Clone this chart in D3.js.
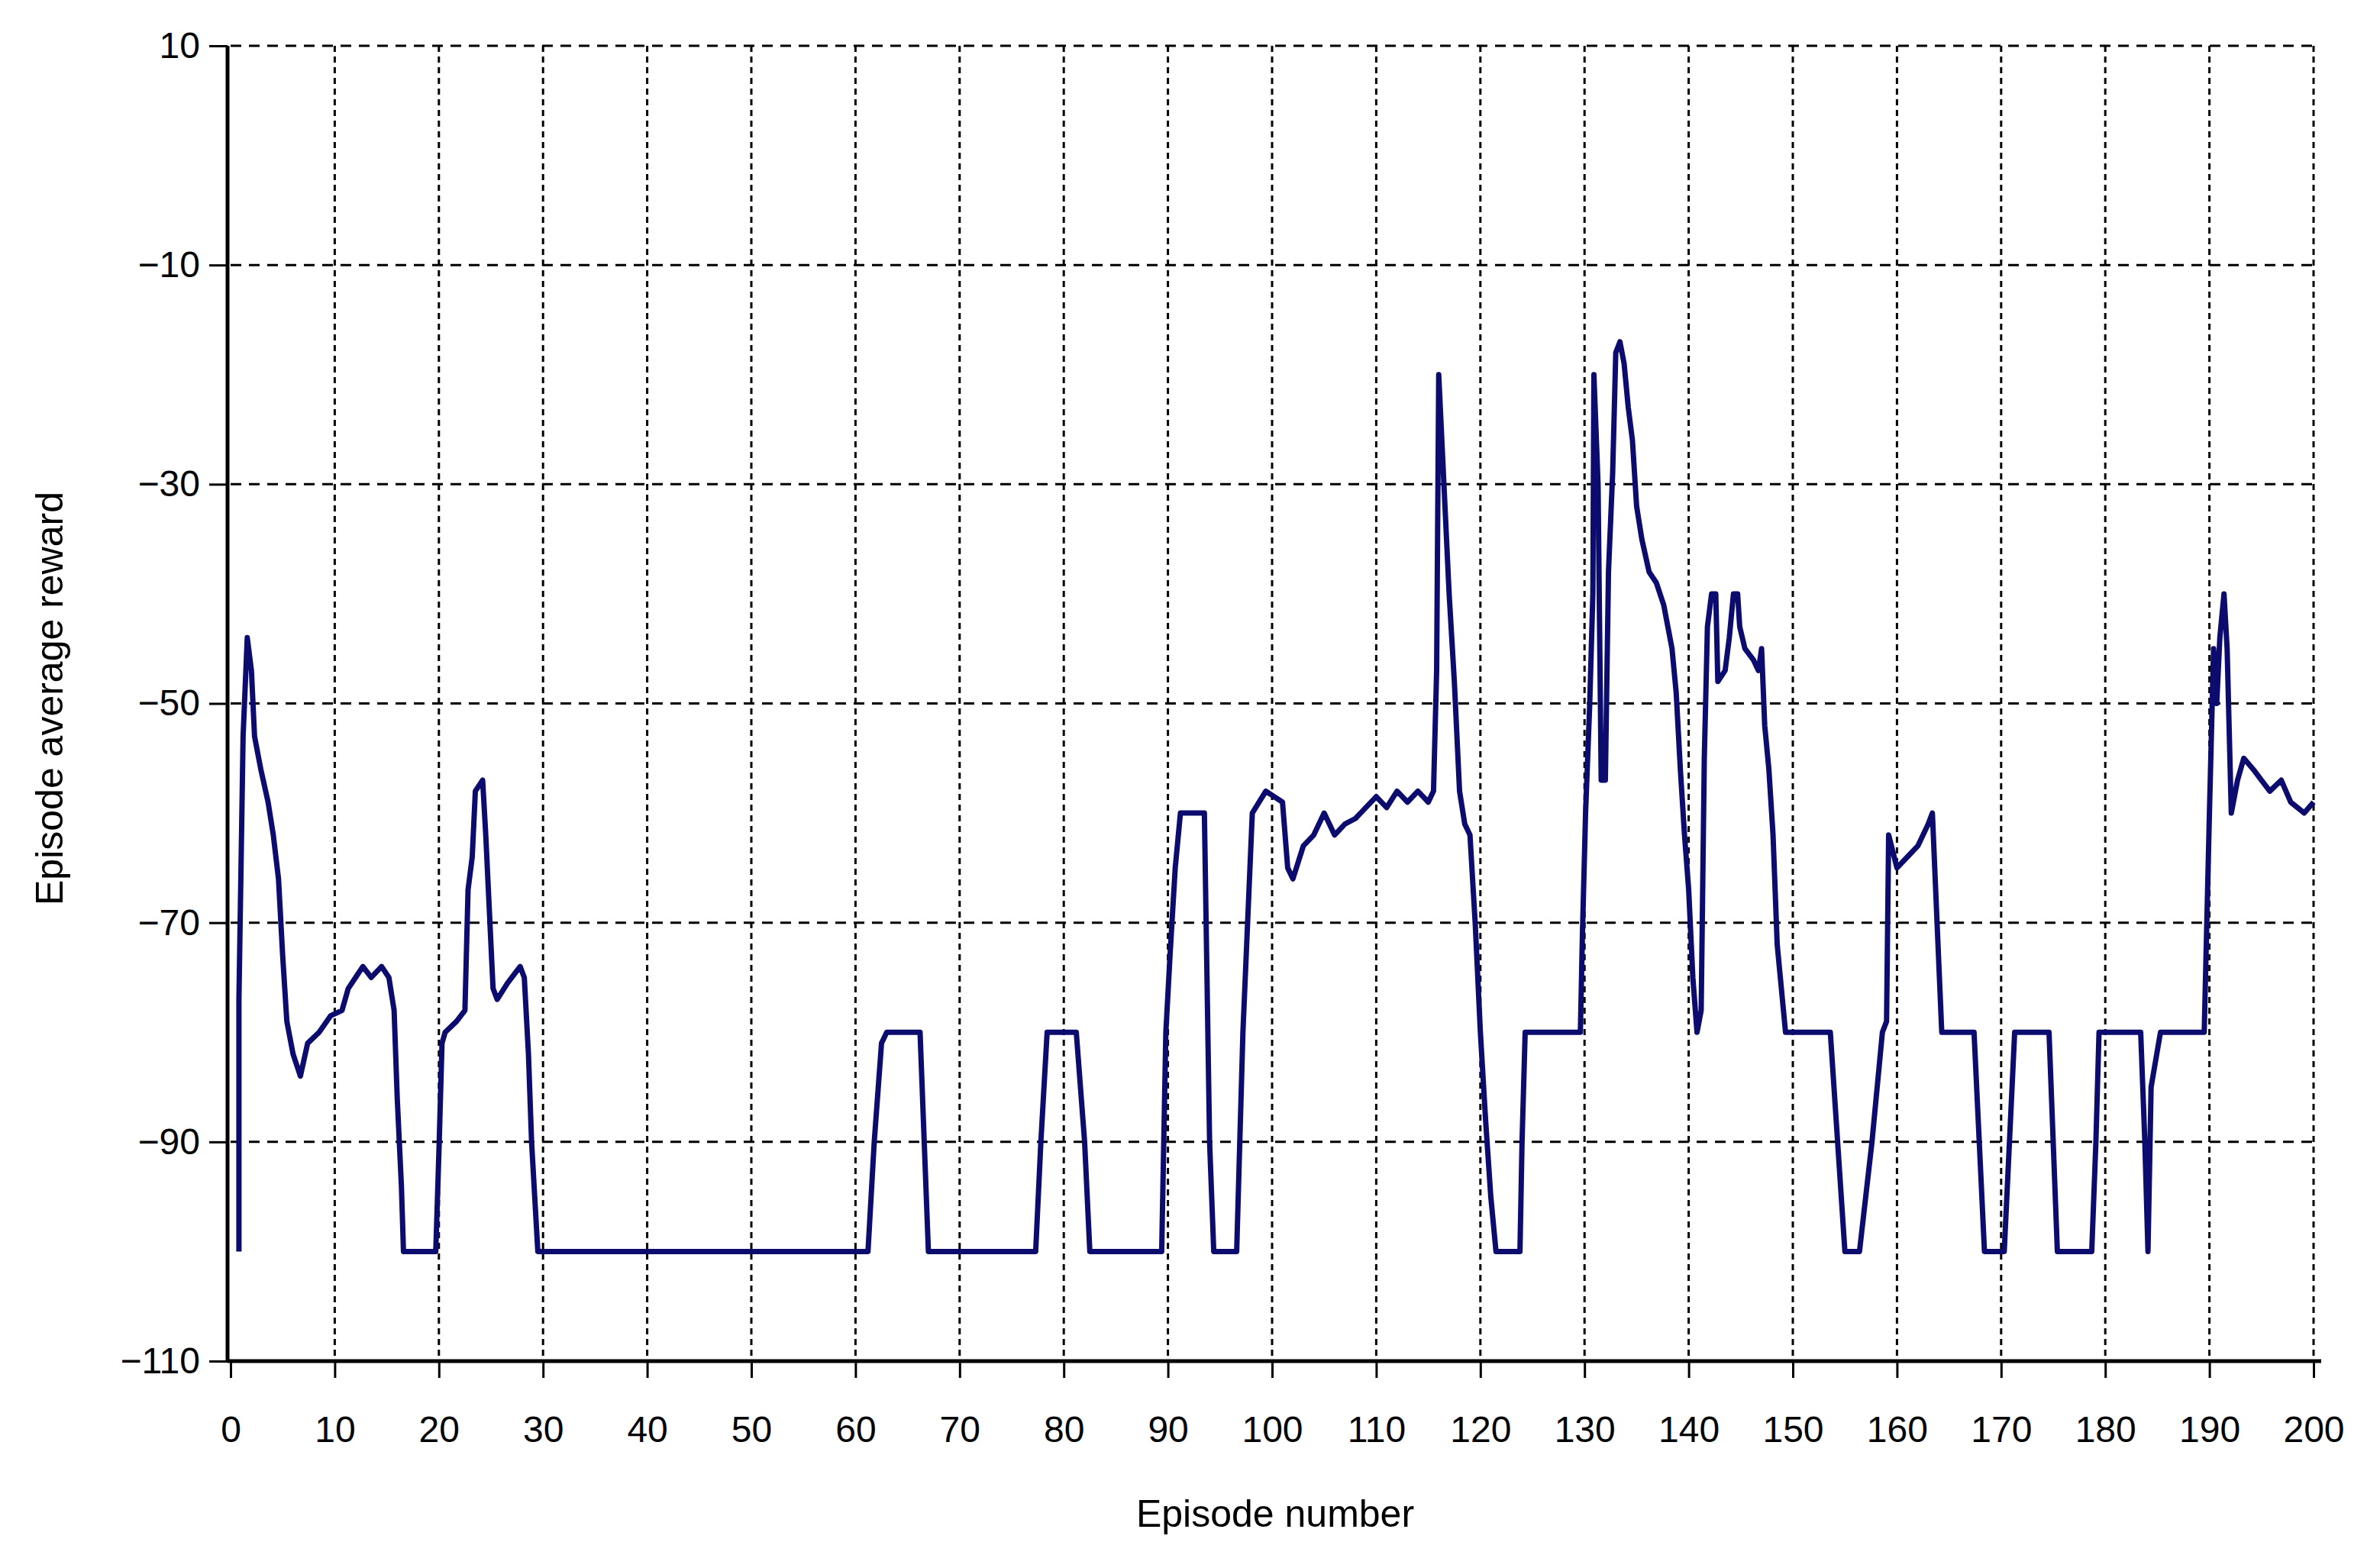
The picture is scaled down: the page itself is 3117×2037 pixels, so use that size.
<!DOCTYPE html>
<html><head><meta charset="utf-8">
<script src="https://cdn.jsdelivr.net/npm/d3@7"></script>
<style>body{margin:0;background:#fff}</style></head>
<body><svg id="c" width="3117" height="2037"></svg>
<script>
const episodes = [0.8,0.8,1.2,1.6,2,2.3,2.9,3.6,4.1,4.6,5,5.4,6,6.7,7.4,8.5,9.6,10.7,11.3,12,12.7,13.5,14.5,15.2,15.7,16,16.4,16.6,19.7,20,20.3,20.6,21.7,22.5,22.8,23.2,23.5,24.2,24.5,24.8,25.2,25.6,26.6,27.8,28.2,28.6,28.9,29.5,
61.2,61.8,62.5,63,66.2,66.6,67,77.3,77.8,78.4,81.2,82,82.5,89.4,89.8,90.2,90.7,91.2,93.5,94,94.4,96.6,97.2,98.1,99.4,101,101.5,102,103,104,105,106,107,108,109,110,111,112,113,114,115,115.5,115.8,116,116.5,117,117.5,118,118.5,119,119.5,120,120.5,121,121.5,123.8,124,124.3,129.6,129.8,130.1,130.5,130.8,130.9,131.3,131.6,132,132.3,132.7,133,133.4,133.8,134.2,134.6,135,135.5,136.2,136.9,137.6,138.4,138.8,139.2,139.6,140,140.4,140.8,141.2,141.5,141.8,142.2,142.6,142.8,143.5,143.9,144.3,144.7,144.9,145.4,146.2,146.7,147,147.3,147.7,148.1,148.5,149.3,153.6,154.3,155,156.4,157.6,158.6,159,159.2,160,161,162,163,163.4,164.3,167.4,167.9,168.4,170.3,170.8,171.3,174.6,175,175.4,178.7,179.1,179.4,183.4,183.8,184.1,184.4,185.3,189.5,190,190.4,190.7,191,191.4,191.7,192.1,192.7,193.3,194.2,195,195.8,196.9,197.8,199.1,200];
const rewards = [-100,-77,-53,-44,-47,-53,-56,-59,-62,-66,-73,-79,-82,-84,-81,-80,-78.5,-78,-76,-75,-74,-75,-74,-75,-78,-86,-94,-100,-100,-91,-81,-80,-79,-78,-67,-64,-58,-57,-62,-68,-76,-77,-75.5,-74,-75,-82,-90,-100,
-100,-90,-81,-80,-80,-90,-100,-100,-90,-80,-80,-90,-100,-100,-80,-73,-65,-60,-60,-90,-100,-100,-80,-60,-58,-59,-65,-66,-63,-62,-60,-62,-61,-60.5,-59.5,-58.5,-59.5,-58,-59,-58,-59,-58,-47,-20,-30,-40,-48,-58,-61,-62,-70,-80,-88,-95,-100,-100,-90,-80,-80,-71,-60,-50,-40,-20,-30,-57,-57,-38,-29,-18,-17,-19,-23,-26,-32,-35,-38,-39,-41,-45,-49,-56,-62,-67,-75,-80,-78,-55,-43,-40,-40,-48,-47,-44,-40,-40,-43,-45,-46,-47,-45,-52,-56,-62,-72,-80,-80,-90,-100,-100,-90,-80,-79,-62,-65,-64,-63,-61,-60,-80,-80,-90,-100,-100,-90,-80,-80,-90,-100,-100,-90,-80,-80,-90,-100,-85,-80,-80,-60,-45,-50,-44,-40,-45,-60,-57,-55,-56,-57,-58,-57,-59,-60,-59];
const xTicks = d3.range(0, 201, 10);
const yTicks = [10,-10,-30,-50,-70,-90,-110];

const L=302,R=3030,T=60,B=1783;
const svg=d3.select("#c");
const x=d3.scaleLinear().domain([0,200]).range([L,R]);
const y=d3.scaleLinear().domain([-110,10]).range([B,T]);
const font="Liberation Sans, Arial, sans-serif";

svg.append("g").selectAll("line").data(xTicks.filter(d=>d>0)).join("line")
 .attr("x1",d=>x(d)).attr("x2",d=>x(d)).attr("y1",T).attr("y2",B)
 .attr("stroke","#000").attr("stroke-width",3).attr("stroke-dasharray","8,6");
svg.append("g").selectAll("line").data(yTicks.filter(d=>d>-110)).join("line")
 .attr("x1",L).attr("x2",R).attr("y1",d=>y(d)).attr("y2",d=>y(d))
 .attr("stroke","#000").attr("stroke-width",3).attr("stroke-dasharray","14,10");

const xa=svg.append("g").attr("transform",`translate(0,${B})`)
 .call(d3.axisBottom(x).tickValues(xTicks).tickSize(22).tickPadding(50).tickFormat(d3.format("d")));
const ya=svg.append("g").attr("transform",`translate(${L-4},0)`)
 .call(d3.axisLeft(y).tickValues(yTicks).tickSize(24).tickPadding(12).tickFormat(d=>d<0?"\u2212"+Math.abs(d):d));
[xa,ya].forEach(a=>{a.select(".domain").attr("stroke","#000").attr("stroke-width",5);
 a.selectAll(".tick line").attr("stroke","#000").attr("stroke-width",3);
 a.selectAll("text").attr("font-family",font).attr("font-size",48).attr("fill","#000");});
xa.select(".domain").attr("d",`M${L-4},0H${R+10}`);
ya.select(".domain").attr("d",`M0,${T}V${B}`);

svg.append("path").datum(episodes.map((e,i)=>[e,rewards[i]]))
 .attr("fill","none").attr("stroke","#0c0c6e").attr("stroke-width",7).attr("stroke-linejoin","round")
 .attr("d",d3.line().x(d=>x(d[0])).y(d=>y(d[1])));

svg.append("text").attr("x",1670).attr("y",2000).attr("text-anchor","middle")
 .attr("font-family",font).attr("font-size",50).text("Episode number");
svg.append("text").attr("transform","translate(82,915) rotate(-90)").attr("text-anchor","middle")
 .attr("font-family",font).attr("font-size",50).text("Episode average reward");
</script></body></html>
